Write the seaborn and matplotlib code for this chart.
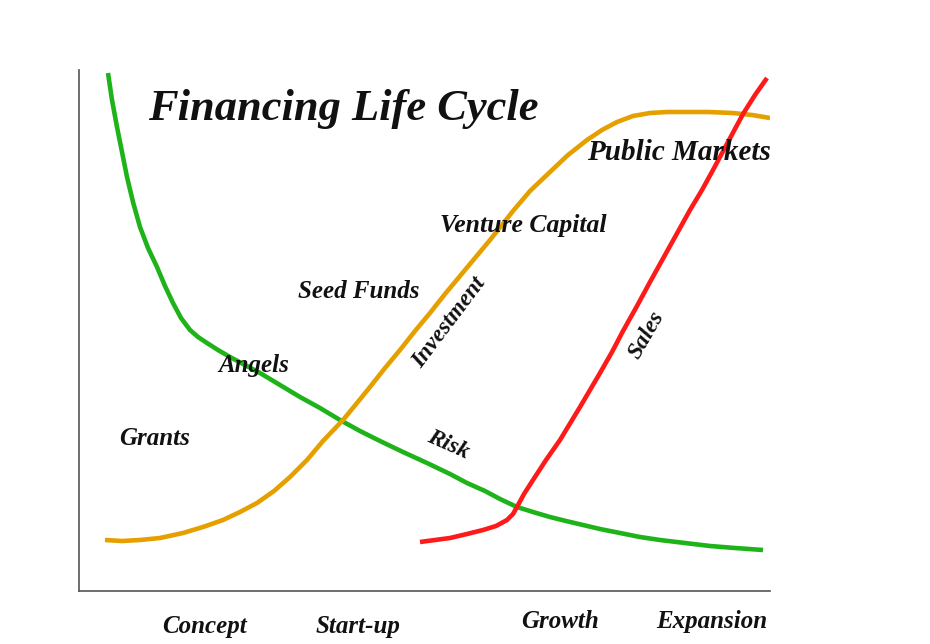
import matplotlib
matplotlib.use("Agg")
import matplotlib.pyplot as plt
import seaborn as sns

# Risk curve (green)
risk_x = [29, 33, 38, 43, 48, 54, 61, 69, 78, 86, 94, 102, 111, 119, 128, 139, 151,
          166, 181, 201, 221, 241, 261, 281, 301, 324, 348, 371, 388, 406, 421, 438,
          454, 471, 487, 504, 521, 541, 561, 581, 606, 631, 656, 684]
risk_y = [518, 491, 464, 439, 414, 389, 364, 343, 324, 305, 288, 273, 261, 254, 248, 241, 234,
          226, 218, 206, 194, 183, 171, 160, 150, 139, 128, 117, 108, 100, 92, 84,
          79, 74, 70, 66, 62, 58, 54, 51, 48, 45, 43, 41]

# Investment curve (orange)
invest_x = [26, 43, 61, 81, 104, 124, 144, 161, 178, 195, 211, 228, 244, 264, 278, 291,
            306, 321, 336, 351, 366, 381, 396, 411, 423, 434, 451, 471, 489, 508, 523,
            538, 554, 571, 588, 604, 629, 654, 673, 691]
invest_y = [51, 50, 51, 53, 58, 64, 71, 79, 88, 100, 114, 131, 150, 171, 188, 204,
            223, 241, 260, 278, 297, 315, 333, 351, 366, 380, 400, 419, 436, 451, 461,
            469, 475, 478, 479, 479, 479, 478, 476, 473]

# Sales curve (red)
sales_x = [341, 356, 371, 388, 404, 417, 428, 434, 438, 445, 454, 467, 481, 501, 521,
           533, 544, 558, 571, 591, 611, 623, 634, 649, 664, 676, 688]
sales_y = [49, 51, 53, 57, 61, 65, 71, 77, 84, 97, 111, 131, 151, 184, 218,
           239, 260, 285, 309, 345, 381, 401, 421, 449, 477, 496, 513]

stages = ["Concept", "Start-up", "Growth", "Expansion"]
sources = ["Grants", "Angels", "Seed Funds", "Venture Capital", "Public Markets"]

sns.set_style("white")
plt.rcParams["font.family"] = ["Liberation Serif", "DejaVu Serif"]

fig = plt.figure(figsize=(9.3, 6.44), dpi=100)
ax = fig.add_axes([79 / 930, 53 / 644, 691 / 930, 521 / 644])

line_kw = dict(sort=False, estimator=None, lw=3.3, solid_joinstyle="round",
               solid_capstyle="butt", ax=ax)
sns.lineplot(x=risk_x, y=risk_y, color="#1fb31a", **line_kw)
sns.lineplot(x=invest_x, y=invest_y, color="#e5a000", **line_kw)
sns.lineplot(x=sales_x, y=sales_y, color="#ff1a1a", **line_kw)

ax.set_xlim(0, 691)
ax.set_ylim(0, 521)
ax.set_xticks([])
ax.set_yticks([])
for side in ["top", "right"]:
    ax.spines[side].set_visible(False)
for side in ["left", "bottom"]:
    ax.spines[side].set_color("#555555")
    ax.spines[side].set_linewidth(1.2)

lbl = dict(fontstyle="italic", fontweight="bold", color="#111111")

ax.text(69, 471, "Financing Life Cycle", fontsize=32, ha="left", va="baseline", **lbl)

src_pos = [(40, 146), (139, 219), (219, 293), (361, 359), (508, 431)]
src_size = [18, 18, 18, 18.5, 21]
for name, (x, y), fs in zip(sources, src_pos, src_size):
    ax.text(x, y, name, fontsize=fs, ha="left", va="baseline", **lbl)

ax.text(369, 146, "Risk", fontsize=17, rotation=-24, ha="center", va="center",
        rotation_mode="anchor", **lbl)
ax.text(370, 268, "Investment", fontsize=17, rotation=53, ha="center", va="center",
        rotation_mode="anchor", **lbl)
ax.text(568, 256, "Sales", fontsize=17, rotation=60, ha="center", va="center",
        rotation_mode="anchor", **lbl)

stage_pos = [(126, -42), (279, -42), (481, -37), (633, -37)]
for name, (x, y) in zip(stages, stage_pos):
    ax.text(x, y, name, fontsize=18, ha="center", va="baseline", **lbl)

fig.savefig("out.png", dpi=100)
